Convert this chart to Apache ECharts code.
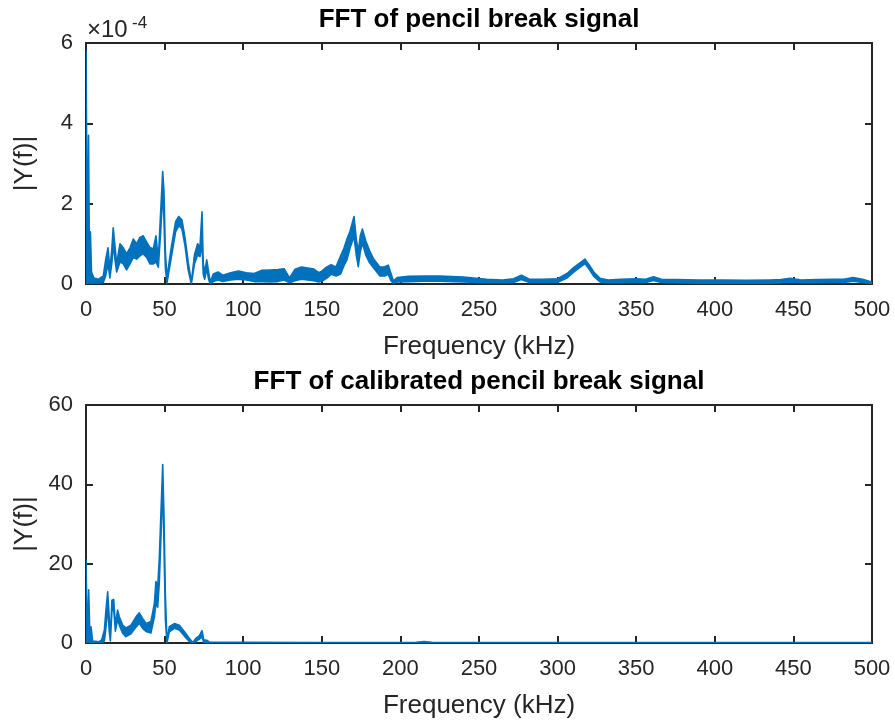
<!DOCTYPE html>
<html>
<head>
<meta charset="utf-8">
<script src="https://cdn.jsdelivr.net/npm/echarts@6/dist/echarts.min.js"></script>
<style>
html,body{margin:0;padding:0;background:#fff;}
#chart{width:895px;height:724px;}
</style>
</head>
<body>
<div id="chart"></div>
<script>
// ---------- DATA ----------
const xTicks = [0, 50, 100, 150, 200, 250, 300, 350, 400, 450, 500];
const topYTicks = [0, 2, 4, 6];        // in units of 1e-4
const botYTicks = [0, 20, 40, 60];

// Top panel: FFT of pencil break signal (|Y(f)| in units of 1e-4)
// The dense FFT trace is drawn as an envelope band: upper (topHi) and lower (topLo) edges.
const topFreq = [0, 0.6, 1.0, 1.6, 2.2, 2.8, 3.5, 5, 8, 11,
  12.5, 14, 15.2, 16.5, 17.3, 18.3, 19.5, 21.6, 23.7, 25.8,
  28, 30.1, 32.2, 34.3, 36.4, 38.6, 40.7, 42.8, 44.5, 46,
  47.5, 48.8, 49.6, 50.5, 51.5, 54, 57, 59, 61, 63,
  65, 67, 69, 71, 72.5, 73.8, 74.6, 75.5, 76.8, 78,
  79, 81, 84, 87, 92, 97, 102, 107, 112, 117,
  122, 126, 129.5, 133, 137, 141, 145, 148, 150, 153,
  156, 159, 162, 164, 166, 168, 170.5, 172, 173.2, 174.5,
  175.8, 178, 180.5, 183, 187, 190, 192.3, 194, 195.5, 198,
  205, 215, 225, 240, 255, 265, 272, 277, 282, 290,
  300, 306, 310, 314, 317.4, 320, 323, 327, 332, 340,
  350, 356, 361, 366, 375, 390, 405, 420, 435, 442,
  448, 455, 465, 475, 482, 488, 494, 500];
const topHi = [5.8, 2.4, 0.3, 3.7, 0.5, 1.3, 0.3, 0.15, 0.12, 0.2,
  0.6, 0.9, 0.35, 0.9, 1.4, 1.0, 0.5, 1.0, 0.9, 0.75,
  0.9, 1.12, 1.0, 1.16, 1.2, 1.04, 0.91, 0.87, 1.2, 0.6,
  1.8, 2.8, 2.3, 0.8, 0.15, 0.85, 1.55, 1.68, 1.6, 1.15,
  0.55, 0.05, 0.72, 1.0, 0.92, 1.8, 0.5, 0.3, 0.6, 0.3,
  0.05, 0.25, 0.3, 0.22, 0.28, 0.32, 0.28, 0.26, 0.34, 0.35,
  0.36, 0.38, 0.15, 0.37, 0.42, 0.4, 0.37, 0.28, 0.32, 0.42,
  0.48, 0.42, 0.7, 0.88, 1.12, 1.32, 1.68, 1.1, 0.82, 1.2,
  1.37, 1.07, 0.82, 0.62, 0.42, 0.43, 0.47, 0.26, 0.08, 0.16,
  0.19, 0.2, 0.2, 0.17, 0.12, 0.1, 0.13, 0.22, 0.12, 0.12,
  0.13, 0.26, 0.4, 0.52, 0.62, 0.48, 0.3, 0.14, 0.1, 0.12,
  0.13, 0.12, 0.18, 0.12, 0.11, 0.1, 0.1, 0.09, 0.1, 0.11,
  0.14, 0.1, 0.11, 0.12, 0.12, 0.16, 0.12, 0.05];
const topLo = [0, 0.1, 0, 0.2, 0, 0.1, 0, 0.03, 0.02, 0.04,
  0.2, 0.5, 0.15, 0.55, 1.0, 0.65, 0.3, 0.55, 0.5, 0.35,
  0.5, 0.66, 0.62, 0.7, 0.75, 0.66, 0.5, 0.5, 0.55, 0.42,
  1.3, 2.3, 1.6, 0.4, 0.02, 0.6, 1.3, 1.45, 1.38, 0.95,
  0.35, 0, 0.5, 0.72, 0.68, 1.0, 0.25, 0.12, 0.38, 0.12,
  0, 0.06, 0.1, 0.06, 0.1, 0.12, 0.1, 0.06, 0.06, 0.05,
  0.06, 0.1, 0.03, 0.08, 0.12, 0.1, 0.08, 0.05, 0.07, 0.14,
  0.24, 0.2, 0.25, 0.45, 0.6, 0.9, 1.18, 0.7, 0.43, 0.8,
  1.02, 0.72, 0.52, 0.4, 0.2, 0.2, 0.24, 0.08, 0.02, 0.05,
  0.06, 0.07, 0.07, 0.05, 0.03, 0.03, 0.04, 0.11, 0.04, 0.04,
  0.04, 0.15, 0.29, 0.41, 0.51, 0.37, 0.19, 0.05, 0.03, 0.03,
  0.04, 0.04, 0.09, 0.04, 0.03, 0.02, 0.02, 0.02, 0.02, 0.03,
  0.05, 0.03, 0.03, 0.04, 0.04, 0.07, 0.04, 0.01];

// Bottom panel: FFT of calibrated pencil break signal
const botFreq = [0, 0.5, 1.0, 1.7, 2.5, 3.2, 4.2, 6, 8, 10,
  11.7, 12.7, 13.8, 14.8, 15.5, 16.5, 17.6, 18.7, 20.1, 21.2,
  23.3, 25.4, 28.6, 31.8, 33.9, 36, 38.2, 41.3, 43.5, 44.5,
  45.6, 46.6, 47.7, 48.8, 49.6, 50.5, 51.5, 53, 56.2, 59.4,
  62.5, 65.7, 67.9, 70, 72.1, 73.8, 74.9, 76.8, 78.5, 82,
  100, 150, 200, 210, 215, 220, 250, 300, 350, 400,
  450, 500];
const botHi = [21, 8.7, 2, 13.4, 1.3, 4.1, 0.5, 0.4, 0.3, 0.8,
  3.3, 8.3, 12.9, 6.2, 1.7, 10.8, 11.0, 4.5, 8.3, 6.6,
  4.5, 3.8, 4.5, 6.6, 7.6, 6.2, 4.9, 5.4, 10, 15.5,
  14, 21, 33, 45, 32, 12, 0.5, 4.1, 4.9, 4.5,
  2.9, 1.2, 0.1, 1.2, 1.8, 3.1, 0.8, 0.7, 0.2, 0.15,
  0.15, 0.12, 0.12, 0.2, 0.35, 0.15, 0.1, 0.1, 0.1, 0.1,
  0.1, 0.1];
const botLo = [0, 0.5, 0, 1, 0, 0.5, 0, 0, 0, 0,
  0.5, 4, 9, 3, 0.5, 8, 8.5, 3, 6, 4.5,
  2.5, 1.6, 2.3, 4.0, 5.0, 3.7, 2.9, 2.5, 6.6, 10,
  9, 15, 27, 40, 25, 6, 0, 2.8, 3.7, 3.3,
  1.8, 0.4, 0, 0.4, 1.0, 1.5, 0.2, 0.2, 0, 0,
  0, 0, 0, 0.05, 0.1, 0, 0, 0, 0, 0,
  0, 0];

// ---------- STYLE ----------
const BLUE = '#0072BD';
const AX = '#262626';
const FONT = '"Liberation Sans", Arial, Helvetica, sans-serif';

const chart = echarts.init(document.getElementById('chart'), null, {renderer: 'canvas'});

function xAxis(gridIndex, position, labels, name) {
  return {
    type: 'value', gridIndex: gridIndex, position: position,
    min: xTicks[0], max: xTicks[xTicks.length - 1], interval: xTicks[1] - xTicks[0],
    axisLine: {show: true, onZero: false, lineStyle: {color: AX, width: 2}},
    axisTick: {show: true, inside: true, length: 7, lineStyle: {color: AX, width: 2}},
    axisLabel: {show: labels, fontSize: 22, color: AX, margin: 15, fontFamily: FONT},
    splitLine: {show: false},
    name: name || '', nameLocation: 'middle', nameGap: 50,
    nameTextStyle: {fontSize: 26, color: AX, fontFamily: FONT}
  };
}
function yAxis(gridIndex, position, labels, ticks, name) {
  return {
    type: 'value', gridIndex: gridIndex, position: position,
    min: ticks[0], max: ticks[ticks.length - 1], interval: ticks[1] - ticks[0],
    axisLine: {show: true, onZero: false, lineStyle: {color: AX, width: 2}},
    axisTick: {show: true, inside: true, length: 7, lineStyle: {color: AX, width: 2}},
    axisLabel: {show: labels, fontSize: 22, color: AX, margin: 13, fontFamily: FONT},
    splitLine: {show: false},
    name: name || '', nameLocation: 'middle', nameGap: 48,
    nameTextStyle: {fontSize: 26, color: AX, fontFamily: FONT}
  };
}
function band(xi, yi, f, lo, hi) {
  return {
    type: 'custom', xAxisIndex: xi, yAxisIndex: yi, clip: true, silent: true,
    data: [[f[0], lo[0]]],
    renderItem: function (params, api) {
      const pts = [];
      for (let i = 0; i < f.length; i++) pts.push(api.coord([f[i], hi[i]]));
      for (let i = f.length - 1; i >= 0; i--) pts.push(api.coord([f[i], lo[i]]));
      return {type: 'polygon', shape: {points: pts},
              style: {fill: BLUE, stroke: BLUE, lineWidth: 1.6, lineJoin: 'round'}};
    }
  };
}

const option = {
  animation: false,
  backgroundColor: '#fff',
  grid: [
    {left: 86, top: 43, width: 786, height: 241},
    {left: 86, top: 405, width: 786, height: 238}
  ],
  xAxis: [
    xAxis(0, 'bottom', true, 'Frequency (kHz)'),
    xAxis(0, 'top', false),
    xAxis(1, 'bottom', true, 'Frequency (kHz)'),
    xAxis(1, 'top', false)
  ],
  yAxis: [
    yAxis(0, 'left', true, topYTicks, '|Y(f)|'),
    yAxis(0, 'right', false, topYTicks),
    yAxis(1, 'left', true, botYTicks, '|Y(f)|'),
    yAxis(1, 'right', false, botYTicks)
  ],
  series: [
    band(0, 0, topFreq, topLo, topHi),
    band(2, 2, botFreq, botLo, botHi)
  ],
  graphic: [
    {type: 'text', x: 479, y: 20, z: 10,
     style: {text: 'FFT of pencil break signal', fontSize: 26, fontWeight: 'bold', fontFamily: FONT,
             fill: '#000', align: 'center', verticalAlign: 'middle'}},
    {type: 'text', x: 479, y: 382, z: 10,
     style: {text: 'FFT of calibrated pencil break signal', fontSize: 26, fontWeight: 'bold', fontFamily: FONT,
             fill: '#000', align: 'center', verticalAlign: 'middle'}},
    {type: 'text', x: 87, y: 30, z: 10,
     style: {text: '\u00d710', fontSize: 24, fontFamily: FONT, fill: AX, align: 'left', verticalAlign: 'middle'}},
    {type: 'text', x: 132, y: 23, z: 10,
     style: {text: '-4', fontSize: 17, fontFamily: FONT, fill: AX, align: 'left', verticalAlign: 'middle'}}
  ]
};
chart.setOption(option);
</script>
</body>
</html>
